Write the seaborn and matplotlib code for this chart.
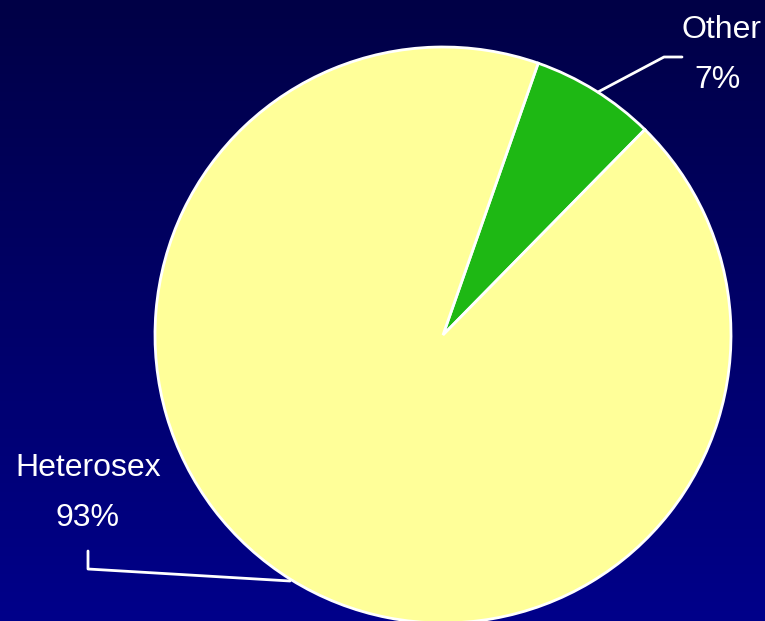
import numpy as np
import matplotlib.pyplot as plt
import seaborn as sns
from matplotlib.colors import LinearSegmentedColormap

sns.set_theme(style="white")
plt.rcParams['font.family'] = ['Liberation Sans Narrow', 'Liberation Sans', 'DejaVu Sans']

# data
labels = ["Other", "Heterosex"]
shares = [7, 93]
colors = ["#1EB814", "#FFFF99"]

W, H = 765, 621
fig = plt.figure(figsize=(W / 100, H / 100), dpi=100)
ax = fig.add_axes([0, 0, 1, 1])

# background gradient, dark navy on top to blue at the bottom
grad = LinearSegmentedColormap.from_list("bg", ["#000046", "#00008A"])
ax.imshow(np.linspace(0, 1, 256).reshape(-1, 1), cmap=grad, aspect="auto",
          extent=[0, W, 0, H], origin="upper", zorder=0)

cx, cy, r = 443, H - 335, 288
ax.pie(shares, colors=colors, startangle=45.5, center=(cx, cy), radius=r,
       wedgeprops=dict(edgecolor="white", linewidth=2), frame=True)
ax.set_xlim(0, W)
ax.set_ylim(0, H)
ax.set_aspect("equal")
ax.axis("off")

# labels + leader lines
txt = dict(color="white", fontsize=23, ha="center", va="center")
ax.text(722, H - 30, labels[0], **txt)
ax.text(718, H - 80, f"{shares[0]}%", **txt)
ax.plot([598, 664, 682], [H - 92, H - 57, H - 57], color="white", lw=2)

ax.text(88, H - 468, labels[1], **txt)
ax.text(88, H - 518, f"{shares[1]}%", **txt)
ax.plot([88, 88, 290], [H - 551, H - 569, H - 581], color="white", lw=2)

fig.savefig("out.png", dpi=100)
